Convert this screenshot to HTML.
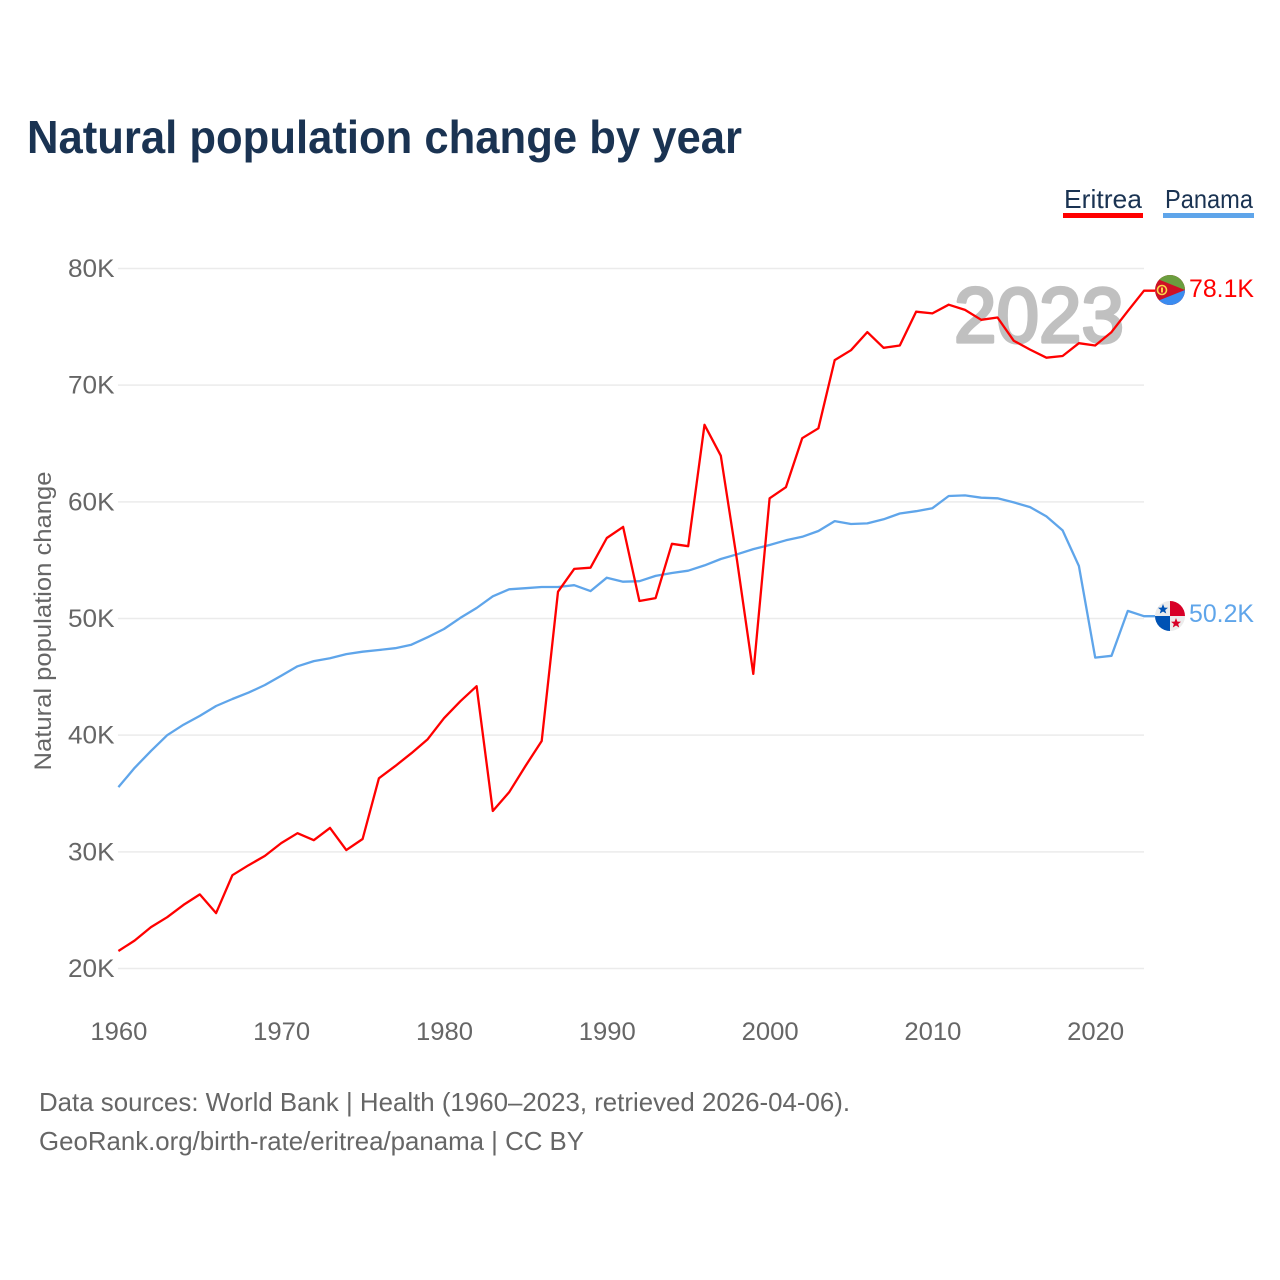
<!DOCTYPE html>
<html lang="en">
<head>
<meta charset="utf-8">
<title>Natural population change by year</title>
<style>
html,body{margin:0;padding:0;background:#fff;width:1280px;height:1280px;overflow:hidden}
svg{display:block}
text{font-family:"Liberation Sans",sans-serif}
</style>
</head>
<body>
<svg id="chart" width="1280" height="1280" viewBox="0 0 1280 1280" xmlns="http://www.w3.org/2000/svg">
  <defs>
    <clipPath id="flag-clip-er"><circle cx="1170" cy="290" r="15"/></clipPath>
    <clipPath id="flag-clip-pa"><circle cx="1170" cy="616" r="15"/></clipPath>
  </defs>
  <text x="27" y="153" font-size="46" font-weight="700" fill="#1a3352" textLength="715" lengthAdjust="spacingAndGlyphs">Natural population change by year</text>

  <g>
    <g>
      <text x="1064" y="208" font-size="26" fill="#1a3352" textLength="78" lengthAdjust="spacingAndGlyphs">Eritrea</text>
      <rect x="1063" y="213" width="80" height="5" fill="#ff0000"/>
    </g>
    <g>
      <text x="1165" y="208" font-size="26" fill="#1a3352" textLength="88" lengthAdjust="spacingAndGlyphs">Panama</text>
      <rect x="1163" y="213" width="91" height="5" fill="#5fa5ea"/>
    </g>
  </g>

  <g id="grid"></g>
  <text x="954" y="342" font-size="78" fill="#c0c0c0" stroke="#c0c0c0" stroke-width="3.2" stroke-linejoin="round" textLength="170" lengthAdjust="spacingAndGlyphs">2023</text>
  <g id="y-ticks"></g>
  <g id="x-ticks"></g>
  <text transform="translate(51 621) rotate(-90)" font-size="24" fill="#666666" text-anchor="middle" textLength="299" lengthAdjust="spacingAndGlyphs">Natural population change</text>
  <g id="series"></g>

  <g clip-path="url(#flag-clip-er)">
    <rect x="1155" y="275" width="30" height="30" fill="#ce1126"/>
    <polygon points="1155,275 1185,275 1185,290 1155,278" fill="#6a9e3f"/>
    <polygon points="1155,305 1185,305 1185,290 1155,302" fill="#3a8cf0"/>
    <circle cx="1162" cy="290" r="4.5" fill="none" stroke="#fbd44b" stroke-width="1.6"/>
    <rect x="1161" y="287.5" width="2" height="5" fill="#fbd44b"/>
  </g>
  <text id="end-label-eritrea" x="1189" y="297" font-size="25" fill="#ff0000" textLength="65" lengthAdjust="spacingAndGlyphs"></text>

  <g clip-path="url(#flag-clip-pa)">
    <rect x="1155" y="601" width="30" height="30" fill="#ececec"/>
    <rect x="1170" y="601" width="15" height="15" fill="#d80027"/>
    <rect x="1155" y="616" width="15" height="15" fill="#0052b4"/>
    <polygon points="1163,604 1164.4,607.6 1168,607.8 1165.2,610 1166.2,613.5 1163,611.5 1159.8,613.5 1160.8,610 1158,607.8 1161.6,607.6" fill="#0052b4"/>
    <polygon points="1176,618 1177.4,621.6 1181,621.8 1178.2,624 1179.2,627.5 1176,625.5 1172.8,627.5 1173.8,624 1171,621.8 1174.6,621.6" fill="#d80027"/>
  </g>
  <text id="end-label-panama" x="1189" y="622" font-size="25" fill="#5fa5ea" textLength="65" lengthAdjust="spacingAndGlyphs"></text>

  <text x="39" y="1111" font-size="26" fill="#666666" textLength="811" lengthAdjust="spacingAndGlyphs">Data sources: World Bank | Health (1960–2023, retrieved 2026-04-06).</text>
  <text x="39" y="1150" font-size="26" fill="#666666" textLength="545" lengthAdjust="spacingAndGlyphs">GeoRank.org/birth-rate/eritrea/panama | CC BY</text>
</svg>
<script>
const firstYear = 1960;
const xTickYears = [1960, 1970, 1980, 1990, 2000, 2010, 2020];
const yTickValues = [20, 30, 40, 50, 60, 70, 80];
const eritreaValues = [21.5,22.4,23.55,24.4,25.45,26.35,24.75,28.0,28.85,29.65,30.75,31.6,31.0,32.05,30.15,31.1,36.3,37.35,38.45,39.65,41.45,42.9,44.2,33.5,35.1,37.35,39.5,52.3,54.25,54.35,56.9,57.85,51.5,51.75,56.4,56.2,66.6,63.95,55.0,45.25,60.3,61.25,65.45,66.3,72.15,73.0,74.55,73.2,73.4,76.3,76.15,76.9,76.45,75.6,75.8,73.8,73.05,72.35,72.5,73.6,73.4,74.55,76.35,78.1];
const panamaValues = [35.55,37.2,38.65,40.0,40.9,41.65,42.5,43.1,43.65,44.3,45.1,45.9,46.35,46.6,46.95,47.15,47.3,47.45,47.75,48.4,49.1,50.05,50.9,51.9,52.5,52.6,52.7,52.7,52.85,52.35,53.5,53.15,53.2,53.65,53.9,54.1,54.55,55.1,55.5,55.95,56.3,56.7,57.0,57.5,58.35,58.1,58.15,58.5,59.0,59.2,59.45,60.5,60.55,60.35,60.3,59.95,59.55,58.75,57.55,54.5,46.65,46.8,50.65,50.2];

const NS = 'http://www.w3.org/2000/svg';
const xScale = year => 118.4 + (year - 1960) * 16.28;
const yScale = value => 968.5 - (value - 20) * 11.6667;
const gridLayer = document.getElementById('grid');
const yLayer = document.getElementById('y-ticks');
const xLayer = document.getElementById('x-ticks');
const seriesLayer = document.getElementById('series');

yTickValues.forEach(value => {
  const line = document.createElementNS(NS, 'line');
  
  
  line.setAttribute('x1', 118);
  line.setAttribute('x2', 1144);
  line.setAttribute('y1', yScale(value));
  line.setAttribute('y2', yScale(value));
  line.setAttribute('stroke', '#ebebeb');
  line.setAttribute('stroke-width', '1.5');
  gridLayer.appendChild(line);
  const label = document.createElementNS(NS, 'text');
  
  
  label.setAttribute('x', 68);
  label.setAttribute('y', yScale(value) + 8.5);
  label.setAttribute('font-size', '25');
  label.setAttribute('fill', '#666666');
  label.setAttribute('textLength', '46.5');
  label.setAttribute('lengthAdjust', 'spacingAndGlyphs');
  label.textContent = value + 'K';
  yLayer.appendChild(label);
});

xTickYears.forEach(year => {
  const label = document.createElementNS(NS, 'text');
  
  
  label.setAttribute('x', xScale(year) - 28);
  label.setAttribute('y', 1040);
  label.setAttribute('font-size', '25');
  label.setAttribute('fill', '#666666');
  label.setAttribute('textLength', '57');
  label.setAttribute('lengthAdjust', 'spacingAndGlyphs');
  label.textContent = year;
  xLayer.appendChild(label);
});

function drawSeries(values, color, name) {
  const pts = values.map((v, i) => xScale(firstYear + i).toFixed(1) + ',' + yScale(v).toFixed(1));
  const last = values[values.length - 1];
  pts.push('1155,' + yScale(last).toFixed(1));
  const line = document.createElementNS(NS, 'polyline');
  
  
  line.setAttribute('points', pts.join(' '));
  line.setAttribute('fill', 'none');
  line.setAttribute('stroke', color);
  line.setAttribute('stroke-width', '2.3');
  line.setAttribute('stroke-linejoin', 'round');
  seriesLayer.appendChild(line);
}
drawSeries(panamaValues, '#5fa5ea', 'line-panama');
drawSeries(eritreaValues, '#ff0000', 'line-eritrea');

document.getElementById('end-label-eritrea').textContent = eritreaValues[eritreaValues.length - 1].toFixed(1) + 'K';
document.getElementById('end-label-panama').textContent = panamaValues[panamaValues.length - 1].toFixed(1) + 'K';
</script>
</body>
</html>
